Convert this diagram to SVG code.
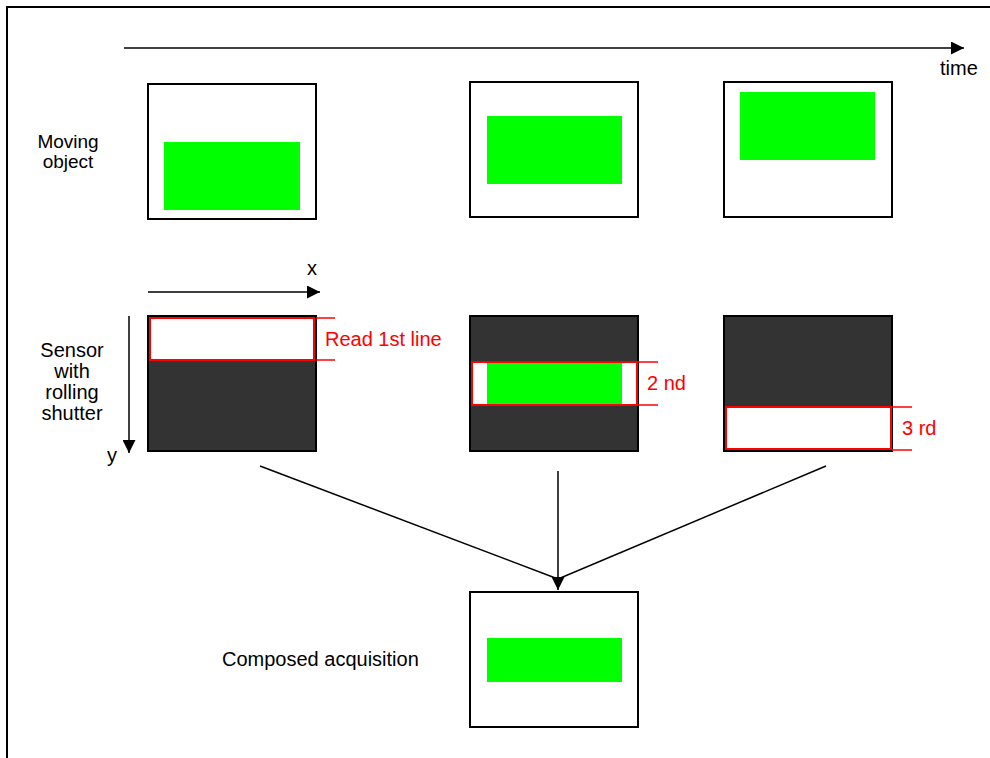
<svg xmlns="http://www.w3.org/2000/svg" width="990" height="758" viewBox="0 0 990 758">
  <defs>
    <style>
      .lbl { font-family: "Liberation Sans", Arial, sans-serif; font-size: 20px; fill: #000; }
      .lbl2 { font-family: "Liberation Sans", Arial, sans-serif; font-size: 19px; fill: #000; }
      .red { font-family: "Liberation Sans", Arial, sans-serif; font-size: 20px; fill: #ff0000; }
      .frame { fill: #fff; stroke: #000; stroke-width: 2; }
      .sensor { fill: #333333; stroke: #000; stroke-width: 2; }
      .obj { fill: #00ff00; }
      .line { fill: #fff; stroke: #ff0000; stroke-width: 2; }
      .tick { stroke: #ff0000; stroke-width: 1.5; }
      .conn { stroke: #000; stroke-width: 1.5; fill: none; }
    </style>
    <marker id="arrow" markerUnits="userSpaceOnUse" markerWidth="14" markerHeight="13" refX="13" refY="6.5" orient="auto">
      <path d="M0,0 L13,6.5 L0,13 Z" fill="#000"/>
    </marker>
  </defs>

  <rect width="990" height="758" fill="#fff"/>
  <!-- page border -->
  <path d="M7,758 V7 H990" fill="none" stroke="#000" stroke-width="2"/>

  <!-- time axis -->
  <g id="time-axis">
    <line class="conn" x1="124" y1="48" x2="964" y2="48" marker-end="url(#arrow)"/>
    <text class="lbl" x="940" y="75">time</text>
  </g>

  <!-- row labels -->
  <g id="label-moving">
    <text class="lbl2" x="68" y="148" text-anchor="middle">Moving</text>
    <text class="lbl2" x="68" y="168" text-anchor="middle">object</text>
  </g>
  <g id="label-sensor">
    <text class="lbl" x="72" y="357" text-anchor="middle">Sensor</text>
    <text class="lbl" x="72" y="378" text-anchor="middle">with</text>
    <text class="lbl" x="72" y="399" text-anchor="middle">rolling</text>
    <text class="lbl" x="72" y="420" text-anchor="middle">shutter</text>
  </g>

  <!-- moving object frames -->
  <g id="object-1">
    <rect class="frame" x="148" y="84" width="168" height="135"/>
    <rect class="obj" x="164" y="142" width="136" height="68"/>
  </g>
  <g id="object-2">
    <rect class="frame" x="470" y="82" width="168" height="135"/>
    <rect class="obj" x="487" y="116" width="135" height="68"/>
  </g>
  <g id="object-3">
    <rect class="frame" x="724" y="82" width="168" height="135"/>
    <rect class="obj" x="740" y="92" width="135" height="68"/>
  </g>

  <!-- sensor axes -->
  <g id="axis-x">
    <line class="conn" x1="148" y1="292" x2="320" y2="292" marker-end="url(#arrow)"/>
    <text class="lbl" x="312" y="275" text-anchor="middle">x</text>
  </g>
  <g id="axis-y">
    <line class="conn" x1="129" y1="316" x2="129" y2="453" marker-end="url(#arrow)"/>
    <text class="lbl" x="112" y="462" text-anchor="middle">y</text>
  </g>

  <!-- sensor readouts -->
  <g id="sensor-1">
    <rect class="sensor" x="148" y="316" width="168" height="135"/>
    <rect class="line" x="150" y="318" width="164" height="42"/>
    <line class="tick" x1="316" y1="318" x2="335" y2="318"/>
    <line class="tick" x1="316" y1="360" x2="335" y2="360"/>
    <text class="red" x="325" y="346">Read 1st line</text>
  </g>
  <g id="sensor-2">
    <rect class="sensor" x="470" y="316" width="168" height="135"/>
    <rect class="line" x="472" y="362" width="165" height="43"/>
    <rect class="obj" x="487" y="363" width="135" height="41"/>
    <line class="tick" x1="638" y1="362" x2="658" y2="362"/>
    <line class="tick" x1="638" y1="405" x2="658" y2="405"/>
    <text class="red" x="647" y="390">2 nd</text>
  </g>
  <g id="sensor-3">
    <rect class="sensor" x="724" y="316" width="168" height="135"/>
    <rect class="line" x="726" y="407" width="165" height="42"/>
    <line class="tick" x1="892" y1="407" x2="912" y2="407"/>
    <line class="tick" x1="892" y1="450" x2="912" y2="450"/>
    <text class="red" x="902" y="435">3 rd</text>
  </g>

  <!-- composed result -->
  <g id="composed">
    <rect class="frame" x="470" y="592" width="168" height="135"/>
    <rect class="obj" x="487" y="638" width="135" height="44"/>
    <text class="lbl" x="222" y="666">Composed acquisition</text>
  </g>

  <!-- connectors -->
  <g id="connectors">
    <line class="conn" x1="260" y1="466" x2="558" y2="579"/>
    <line class="conn" x1="826" y1="466" x2="558" y2="579"/>
    <line class="conn" x1="558" y1="471" x2="558" y2="590" marker-end="url(#arrow)"/>
  </g>
</svg>
